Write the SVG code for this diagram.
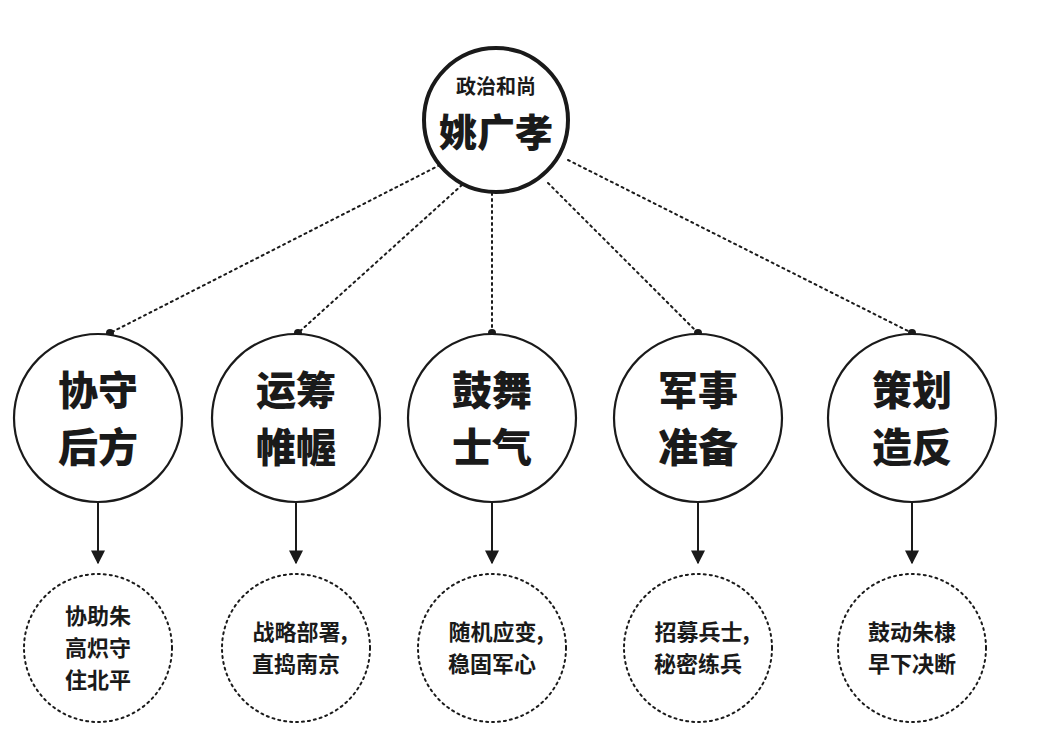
<svg xmlns="http://www.w3.org/2000/svg" width="1038" height="753" viewBox="0 0 1038 753">
<style>
.t{font-family:"Noto Sans CJK SC","Noto Sans CJK JP",sans-serif;fill:#1a1a1a;text-anchor:middle}
.m{font-size:40px;font-weight:900}
.s{font-size:22px;font-weight:700}
.mid{fill:#fff;stroke:#1a1a1a;stroke-width:2.2}
.bot{fill:#fff;stroke:#1a1a1a;stroke-width:2;stroke-dasharray:2 4;stroke-linecap:round}
.c{stroke:#1a1a1a;stroke-width:2;stroke-dasharray:2 4;stroke-linecap:round;fill:none}
.a{stroke:#1a1a1a;stroke-width:2;fill:none}
</style>
<defs><marker id="ar" viewBox="0 0 10 10" refX="9" refY="5" markerWidth="7" markerHeight="7" orient="auto"><path d="M0,0 L10,5 L0,10 z" fill="#1a1a1a"/></marker></defs>
<rect width="1038" height="753" fill="#fff"/>
<g id="connectors">
<line class="c" x1="440" y1="165" x2="110" y2="333"/>
<line class="c" x1="462" y1="185" x2="298" y2="333"/>
<line class="c" x1="492" y1="193" x2="492" y2="333"/>
<line class="c" x1="548" y1="183" x2="698" y2="333"/>
<line class="c" x1="568" y1="160" x2="912" y2="333"/>
<g fill="#1a1a1a"><circle cx="110" cy="333" r="4"/><circle cx="298" cy="333" r="4"/><circle cx="492" cy="333" r="4"/><circle cx="698" cy="333" r="4"/><circle cx="912" cy="333" r="4"/></g>
<line class="a" x1="98" y1="503" x2="98" y2="563" marker-end="url(#ar)"/>
<line class="a" x1="296" y1="503" x2="296" y2="563" marker-end="url(#ar)"/>
<line class="a" x1="492" y1="503" x2="492" y2="563" marker-end="url(#ar)"/>
<line class="a" x1="698" y1="503" x2="698" y2="563" marker-end="url(#ar)"/>
<line class="a" x1="912" y1="503" x2="912" y2="563" marker-end="url(#ar)"/>
</g>
<g id="root"><circle cx="496" cy="120" r="72" fill="#fff" stroke="#1a1a1a" stroke-width="4"/>
<text class="t" x="496" y="94" font-size="20" font-weight="700">政治和尚</text>
<text class="t" x="496" y="146" font-size="38" font-weight="900">姚广孝</text></g>
<g id="n1"><circle class="mid" cx="98" cy="418" r="84"/><text class="t m" x="98" y="405">协守</text><text class="t m" x="98" y="462">后方</text></g>
<g id="n2"><circle class="mid" cx="296" cy="418" r="84"/><text class="t m" x="296" y="405">运筹</text><text class="t m" x="296" y="462">帷幄</text></g>
<g id="n3"><circle class="mid" cx="492" cy="418" r="84"/><text class="t m" x="492" y="405">鼓舞</text><text class="t m" x="492" y="462">士气</text></g>
<g id="n4"><circle class="mid" cx="698" cy="418" r="84"/><text class="t m" x="698" y="405">军事</text><text class="t m" x="698" y="462">准备</text></g>
<g id="n5"><circle class="mid" cx="912" cy="418" r="84"/><text class="t m" x="912" y="405">策划</text><text class="t m" x="912" y="462">造反</text></g>
<g id="b1"><circle class="bot" cx="98" cy="648" r="74"/><text class="t s" x="98" y="624">协助朱</text><text class="t s" x="98" y="656">高炽守</text><text class="t s" x="98" y="688">住北平</text></g>
<g id="b2"><circle class="bot" cx="296" cy="648" r="74"/><text class="t s" x="300" y="640">战略部署,</text><text class="t s" x="296" y="672">直捣南京</text></g>
<g id="b3"><circle class="bot" cx="492" cy="648" r="74"/><text class="t s" x="496" y="640">随机应变,</text><text class="t s" x="492" y="672">稳固军心</text></g>
<g id="b4"><circle class="bot" cx="698" cy="648" r="74"/><text class="t s" x="702" y="640">招募兵士,</text><text class="t s" x="698" y="672">秘密练兵</text></g>
<g id="b5"><circle class="bot" cx="912" cy="648" r="74"/><text class="t s" x="912" y="640">鼓动朱棣</text><text class="t s" x="912" y="672">早下决断</text></g>
</svg>
